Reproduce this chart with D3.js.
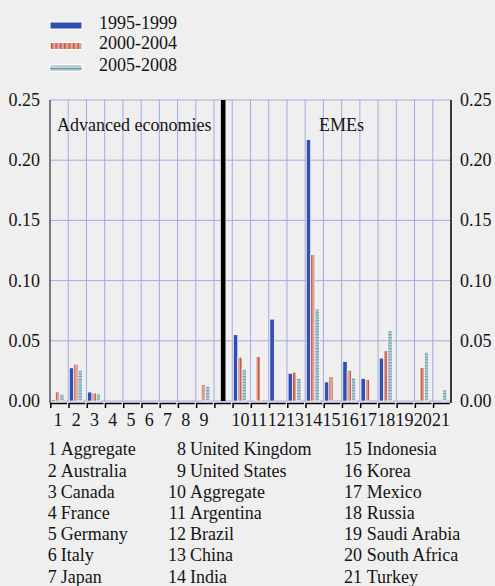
<!DOCTYPE html>
<html><head><meta charset="utf-8">
<script src="https://cdn.jsdelivr.net/npm/d3@7"></script>
</head>
<body style="margin:0;background:#efefef">
<svg id="c" width="495" height="586"></svg>
<script>
// ---- data ----
const slots = ["1","2","3","4","5","6","7","8","9","sep","10","11","12","13","14","15","16","17","18","19","20","21"];
const tickLabels = ["1","2","3","4","5","6","7","8","9","","10","11","12","13","14","15","16","17","18","19","20","21"];
const seriesNames = ["1995-1999","2000-2004","2005-2008"];
const s1995 = [0.001,0.0275,0.0074,0,0,0,0,0,0,null,0.055,0,0.068,0.023,0.217,0.0158,0.0328,0.0186,0.0356,0,0,0];
const s2000 = [0.0075,0.0306,0.0066,0,0,0,0,0,0.0138,null,0.0364,0.0369,0,0.024,0.1217,0.0203,0.0256,0.0178,0.0417,0,0.0278,0];
const s2005 = [0.0058,0.0256,0.0063,0,0,0,0,0,0.0124,null,0.0264,0,0,0.0186,0.0764,0,0.0194,0,0.0583,0,0.0406,0.0092];
const separatorValue = 0.25;
const yTicks = [0,0.05,0.10,0.15,0.20,0.25];
const countryNames = ["Aggregate","Australia","Canada","France","Germany","Italy","Japan","United Kingdom","United States",
  "Aggregate","Argentina","Brazil","China","India","Indonesia","Korea","Mexico","Russia","Saudi Arabia","South Africa","Turkey"];

(function(){
const svg = d3.select("#c");
const W=495,H=586;
svg.append("rect").attr("width",W).attr("height",H).attr("fill","#efefef");
const pL=50,pR=451,pT=100,pB=401;
const x = d3.scaleBand().domain(slots).range([pL,pR]).padding(0);
const y = d3.scaleLinear().domain([0,0.25]).range([pB,pT]);
const bw = x.bandwidth();
const TC="#141414", FF="Liberation Serif", SC=1.125;
// text placed at (px,py), drawn at 16px and scaled to ~18px
const T = (parent, px, py, anchor)=>parent.append("text")
  .attr("x",0).attr("y",0)
  .attr("transform",`translate(${px},${py}) scale(${SC})`)
  .attr("text-anchor",anchor||"start")
  .style("font-family",FF).style("font-size","16px").attr("fill",TC);

const defs = svg.append("defs");
const pOr = defs.append("pattern").attr("id","pOr").attr("patternUnits","userSpaceOnUse").attr("width",4.4).attr("height",4);
pOr.append("rect").attr("width",4.4).attr("height",4).attr("fill","#dca493");
pOr.append("rect").attr("x",2.8).attr("width",1.1).attr("height",4).attr("fill","#c0392b");
const pTe = defs.append("pattern").attr("id","pTe").attr("patternUnits","userSpaceOnUse").attr("width",4).attr("height",2.8);
pTe.append("rect").attr("width",4).attr("height",2.8).attr("fill","#bfd0d8");
pTe.append("rect").attr("y",1.2).attr("width",4).attr("height",0.9).attr("fill","#4f8e9e");
const pTeL = defs.append("pattern").attr("id","pTeL").attr("patternUnits","userSpaceOnUse").attr("width",4).attr("height",8);
pTeL.append("rect").attr("width",4).attr("height",8).attr("fill","#bfd0d8");

const fills = ["#2f4fb2","url(#pOr)","url(#pTe)"];

// grid
const g = svg.append("g");
g.selectAll(".hg").data(yTicks).enter().append("line")
  .attr("x1",pL).attr("x2",pR).attr("y1",d=>y(d)).attr("y2",d=>y(d))
  .attr("stroke","#a4aae6").attr("stroke-width",1);
g.selectAll(".vg").data(slots.slice(1)).enter().append("line")
  .attr("x1",d=>x(d)).attr("x2",d=>x(d)).attr("y1",pT).attr("y2",pB)
  .attr("stroke","#a4aae6").attr("stroke-width",1);

// bars
const series=[s1995,s2000,s2005];
series.forEach((s,i)=>{
  svg.append("g").selectAll("rect").data(slots.map((k,j)=>({k,v:s[j]})).filter(d=>d.v!==null && d.v>0))
    .enter().append("rect")
    .attr("x",d=>x(d.k)+bw*0.065+i*bw*0.236)
    .attr("width",bw*0.236)
    .attr("y",d=>y(d.v)).attr("height",d=>y(0)-y(d.v))
    .attr("fill",fills[i]).attr("stroke","#ffffff").attr("stroke-width",0.6);
});
// separator bar
svg.append("rect").attr("x",x("sep")+bw*0.5-2.3).attr("width",4.6)
  .attr("y",y(separatorValue)).attr("height",y(0)-y(separatorValue)).attr("fill","#000");

// axes lines
svg.append("line").attr("x1",pL).attr("x2",pL).attr("y1",pT).attr("y2",pB+2).attr("stroke","#555").attr("stroke-width",1.5);
svg.append("line").attr("x1",pR).attr("x2",pR).attr("y1",pT).attr("y2",pB+2).attr("stroke","#000").attr("stroke-width",1.5);

// bottom axis segments + labels
const ax = svg.append("g");
slots.forEach((k,j)=>{
  const x0=x(k), x1=x0+bw;
  ax.append("path").attr("d",`M${x0+0.8},${pB+7} V${pB+2.5} H${x1-1.2}`)
    .attr("fill","none").attr("stroke","#000").attr("stroke-width",1.5);
  if(tickLabels[j]) T(ax, x0+bw/2-1, 426, "middle").text(tickLabels[j]);
});

// y labels
const yl = svg.append("g");
yTicks.forEach(v=>{
  T(yl, 40, y(v)+6, "end").text(v.toFixed(2));
  T(yl, 460, y(v)+6, "start").text(v.toFixed(2));
});

// group labels
T(svg, 57, 131).text("Advanced economies");
T(svg, 319, 131).text("EMEs");

// legend
const lg = svg.append("g");
const legFills=["#2f4fb2","url(#pOr)","url(#pTeL)"];
seriesNames.forEach((n,i)=>{
  const yy=[22,42.5,64.5][i];
  lg.append("rect").attr("x",50).attr("y",yy).attr("width",32).attr("height",7)
    .attr("fill",legFills[i]).attr("stroke","#fff").attr("stroke-width",1);
  if(i===2) lg.append("line").attr("x1",50).attr("x2",82).attr("y1",yy+4.2).attr("y2",yy+4.2).attr("stroke","#4f8e9e").attr("stroke-width",1);
  T(lg, 99, yy+6.5).text(n);
});

// footnote list
const cols=[{nEnd:56.7,nameX:60.7},{nEnd:186,nameX:190},{nEnd:362,nameX:366.7}];
const rowY=[455,476.5,497.5,519,540,561,582.5];
const fg=svg.append("g");
countryNames.forEach((nm,i)=>{
  const c=cols[Math.floor(i/7)], r=i%7;
  T(fg, c.nEnd, rowY[r], "end").text(String(i+1));
  T(fg, c.nameX, rowY[r]).text(nm);
});
})();
</script>
</body></html>
